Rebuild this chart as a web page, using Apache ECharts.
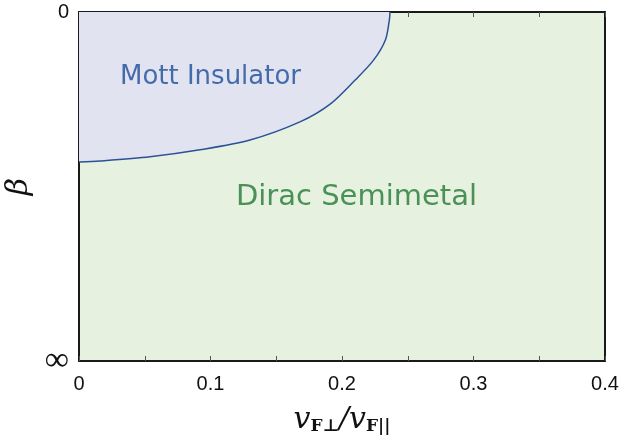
<!DOCTYPE html>
<html>
<head>
<meta charset="utf-8">
<script src="https://cdn.jsdelivr.net/npm/echarts@6/dist/echarts.min.js"></script>
<style>
  html, body { margin: 0; padding: 0; background: #fff; }
  #chart { width: 637px; height: 440px; }
</style>
</head>
<body>
<div id="chart"></div>
<script>
// phase boundary, x = vF_perp / vF_par, y = position on the 0..inf beta axis (0 top, 1 bottom)
const boundaryX = [0, 0.016, 0.054, 0.092, 0.130, 0.168, 0.191, 0.210, 0.224, 0.233, 0.236, 0.2365]
const boundaryY = [0.430, 0.427, 0.415, 0.395, 0.367, 0.315, 0.264, 0.195, 0.138, 0.080, 0.023, 0]

const xTicks = [0, 0.1, 0.2, 0.3, 0.4]
const yTickLabels = ['0', '\u221e']

const regionNames = ['Mott Insulator', 'Dirac Semimetal']
const regionX = [0.100, 0.211]
const regionY = [0.186, 0.530]

const chart = echarts.init(document.getElementById('chart'))

const frameLine = { show: true, onZero: false, lineStyle: { color: '#1a1a1a', width: 2 } }
const innerTicks = { show: true, inside: true, length: 5, lineStyle: { color: '#555', width: 1 } }

chart.setOption({
  animation: false,
  grid: {
    left: 79, right: 32, top: 12, bottom: 79,
    outerBoundsMode: 'none', containLabel: false,
    show: true, backgroundColor: '#e6f2df', borderWidth: 0
  },
  xAxis: [{
    type: 'value', min: 0, max: 0.4, interval: 0.05, position: 'bottom',
    axisLine: frameLine,
    axisTick: innerTicks,
    splitLine: { show: false },
    axisLabel: {
      margin: 13, fontSize: 20, color: '#111', fontFamily: 'Liberation Sans',
      formatter: v => {
        const k = Math.round(v * 20)
        if (k % 2 !== 0) return ''
        const t = xTicks.find(x => Math.abs(x - v) < 1e-6)
        return t === undefined ? '' : String(t)
      }
    },
    name: '{v|v}{s|F\u22a5}{v|/v}{s|F||}',
    nameLocation: 'middle', nameGap: 44,
    nameTextStyle: {
      rich: {
        v: { fontFamily: 'DejaVu Serif', fontStyle: 'italic', fontSize: 30, color: '#111' },
        s: { fontFamily: 'DejaVu Serif', fontWeight: 'bold', fontSize: 17, color: '#111', verticalAlign: 'bottom' }
      }
    }
  }, {
    type: 'value', min: 0, max: 0.4, interval: 0.05, position: 'top',
    axisLine: frameLine,
    axisTick: innerTicks,
    axisLabel: { show: false },
    splitLine: { show: false }
  }],
  yAxis: [{
    type: 'value', min: 0, max: 1, interval: 1, inverse: true, position: 'left',
    axisLine: frameLine,
    axisTick: { show: false },
    splitLine: { show: false },
    axisLabel: {
      margin: 10, color: '#111',
      formatter: v => Math.round(v) === 0 ? '{n|' + yTickLabels[0] + '}' : '{i|' + yTickLabels[1] + '}',
      rich: {
        n: { fontFamily: 'Liberation Sans', fontSize: 20, color: '#111' },
        i: { fontFamily: 'Liberation Serif', fontSize: 34, color: '#111' }
      }
    },
    name: '\u03b2', nameLocation: 'middle', nameGap: 36, nameRotate: 90,
    nameTextStyle: { fontFamily: 'DejaVu Serif', fontStyle: 'italic', fontSize: 30, color: '#111' }
  }, {
    type: 'value', min: 0, max: 1, interval: 1, inverse: true, position: 'right',
    axisLine: frameLine,
    axisTick: { show: false },
    axisLabel: { show: false },
    splitLine: { show: false }
  }],
  series: [{
    type: 'line',
    data: boundaryX.map((x, i) => [x, boundaryY[i]]),
    smooth: 0.3,
    symbol: 'none',
    lineStyle: { color: '#2b5197', width: 1.5 },
    areaStyle: { origin: 'start', color: '#e1e3f1', opacity: 1 },
    z: 2
  }, {
    type: 'scatter',
    symbolSize: 0,
    data: regionNames.map((n, i) => ({
      value: [regionX[i], regionY[i]],
      label: {
        show: true, position: 'inside', formatter: n,
        fontFamily: 'DejaVu Sans',
        fontSize: i === 0 ? 26 : 29,
        color: i === 0 ? '#1d4c97' : '#237836'
      }
    })),
    z: 3
  }]
})
</script>
</body>
</html>
